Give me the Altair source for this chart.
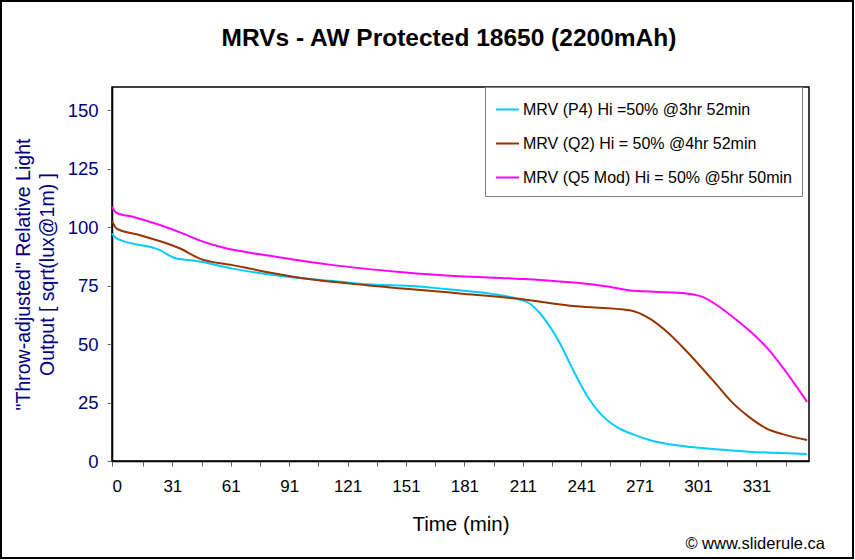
import altair as alt
import pandas as pd

# ---- data ----
series_names = [
    "MRV (P4) Hi =50% @3hr 52min",
    "MRV (Q2) Hi = 50% @4hr 52min",
    "MRV (Q5 Mod) Hi = 50% @5hr 50min",
]
series_colors = ["#00CCFF", "#993300", "#FF00FF"]

p4_time = [0, 2.4, 24.6, 33, 43.4, 62, 88, 113.6, 130.6, 156, 178.5, 195, 207.6, 214.5,
           220, 225, 230, 235, 240, 245, 250, 255, 260, 268, 276, 293, 310, 327, 357]
p4_val = [97.3, 95.2, 90.2, 86.6, 85.6, 82.3, 79, 77, 75.6, 74.8, 73, 71.5, 69.5, 67.4,
          63, 57.4, 50.5, 42, 33.8, 26.6, 21, 17, 14.2, 11.3, 9, 6.4, 5, 4, 3]

q2_time = [0, 2.4, 14.4, 35, 45, 62, 79.4, 103, 130.7, 178.5, 207.6, 238.4, 265.8, 276,
           284, 293, 310, 318, 327, 336, 344.4, 357]
q2_val = [102.7, 99.4, 96.6, 90.9, 86.6, 83.8, 80.9, 77.6, 75.2, 71.7, 69.5, 66.2, 64.5, 61,
          56, 48.8, 33.2, 25.5, 19, 14, 11.5, 9]

q5_time = [0, 2.4, 11, 36.6, 45, 57, 79.4, 113.5, 147.8, 178.5, 207.6, 255.5, 267.4, 293,
           303.3, 318.7, 336, 357]
q5_val = [108.7, 106.1, 104.4, 97.3, 94.4, 91.3, 88, 83.8, 80.9, 79, 78, 74.5, 72.8, 71.9,
          70.2, 61.7, 48.8, 25.3]

x_labels = [0, 31, 61, 91, 121, 151, 181, 211, 241, 271, 301, 331]
x_ticks = [0, 16, 31, 46, 61, 76, 91, 106, 121, 136, 151, 166, 181, 196, 211, 226, 241,
           256, 271, 286, 301, 316, 331, 346]
y_ticks = [0, 25, 50, 75, 100, 125, 150]

title_text = "MRVs - AW Protected 18650 (2200mAh)"
x_title = "Time (min)"
y_title = ['"Throw-adjusted" Relative Light', "Output [ sqrt(lux@1m) ]"]
credit_text = "\u00a9 www.sliderule.ca"

FONT = "Liberation Sans"
NAVY = "#000080"

rows = []
for name, ts, vs in zip(series_names, [p4_time, q2_time, q5_time], [p4_val, q2_val, q5_val]):
    for t, v in zip(ts, vs):
        rows.append({"series": name, "t": t, "v": v})
df = pd.DataFrame(rows)

one = pd.DataFrame({"k": [0]})

lines = alt.Chart(df).mark_line(strokeWidth=2, interpolate="monotone").encode(
    x=alt.X(
        "t:Q",
        scale=alt.Scale(domain=[0, 358], nice=False, zero=False),
        axis=alt.Axis(
            title=x_title,
            values=x_ticks,
            labelExpr="indexof(" + str(x_labels) + ", datum.value) >= 0 ? datum.label : ''",
            labelFont=FONT, labelFontSize=17, labelColor="black", labelPadding=12,
            titleFont=FONT, titleFontSize=20.5, titleFontWeight="normal", titleColor="black",
            titlePadding=20,
            tickSize=5, tickColor="#666666", domainColor="black", domainWidth=1.5,
            grid=False, labelOverlap=False,
        ),
    ),
    y=alt.Y(
        "v:Q",
        scale=alt.Scale(domain=[0, 160], nice=False),
        axis=alt.Axis(
            title=y_title,
            values=y_ticks,
            labelFont=FONT, labelFontSize=18.5, labelColor=NAVY, labelPadding=9,
            titleFont=FONT, titleFontSize=19.5, titleFontWeight="normal", titleColor=NAVY,
            titlePadding=10, titleLineHeight=24,
            tickSize=5, tickColor="#666666", domainColor="black", domainWidth=1.5,
            grid=False,
        ),
    ),
    color=alt.Color(
        "series:N",
        scale=alt.Scale(domain=series_names, range=series_colors),
        legend=alt.Legend(
            title=None, orient="none", legendX=373, legendY=0,
            strokeColor="#808080", fillColor="white", padding=10,
            symbolType="stroke", symbolStrokeWidth=2, symbolSize=529,
            labelFont=FONT, labelFontSize=16, labelColor="black", labelLimit=500,
            labelOffset=3, rowPadding=13,
        ),
    ),
    order=alt.Order("t:Q"),
)

title_mark = alt.Chart(one).mark_text(
    text=title_text, font=FONT, fontSize=24.5, fontWeight="bold", align="center",
    baseline="alphabetic", color="black"
).encode(x=alt.value(337), y=alt.value(-41))

credit = alt.Chart(one).mark_text(
    text=credit_text, font=FONT, fontSize=16.5, align="right", baseline="middle", color="black"
).encode(x=alt.value(713), y=alt.value(457))

border = alt.Chart(one).mark_rect(fill=None, stroke="black", strokeWidth=2).encode(
    x=alt.value(-111), x2=alt.value(741), y=alt.value(-86), y2=alt.value(471)
)

chart = alt.layer(lines, title_mark, credit, border).properties(
    width=697,
    height=374,
    padding={"left": 112, "top": 87, "right": 46, "bottom": 99},
    autosize=alt.AutoSizeParams(type="none"),
    background="white",
).configure_view(stroke="black", strokeWidth=1.5)

chart.save("out.html", embed_options={"renderer": "svg", "actions": False})
